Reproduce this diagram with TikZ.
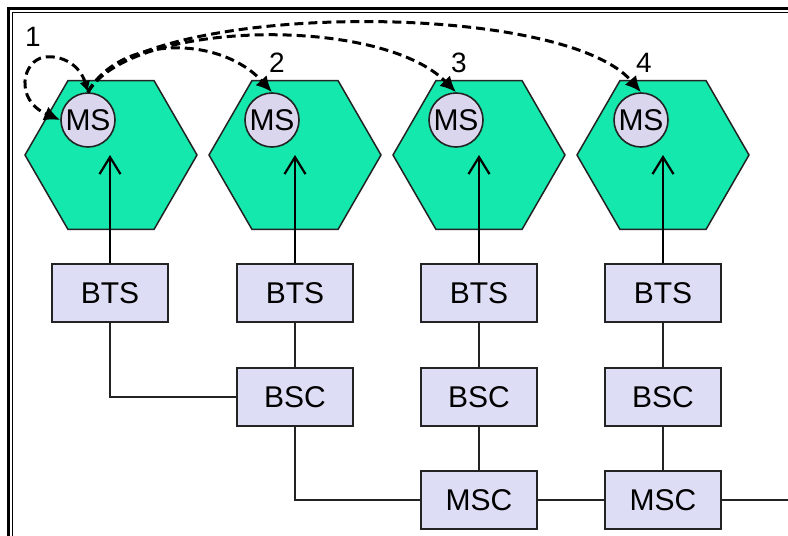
\documentclass[tikz,border=0pt]{standalone}
\usepackage{fontspec}
\setmainfont{Liberation Sans}
\usetikzlibrary{shapes.geometric,arrows.meta}
\definecolor{hexfill}{RGB}{20,232,172}
\definecolor{boxfill}{RGB}{221,221,245}
\definecolor{msfill}{RGB}{218,214,238}
\definecolor{edge}{RGB}{35,35,35}
\tikzset{
  hexa/.style={regular polygon, regular polygon sides=6, minimum size=172pt, inner sep=0pt, outer sep=0pt, draw=edge, line width=1.5pt, fill=hexfill},
  msnode/.style={circle, minimum size=54pt, inner sep=0pt, draw=edge, line width=1.6pt, fill=msfill, font=\fontsize{30}{30}\selectfont},
  unitbox/.style={rectangle, minimum width=116pt, minimum height=58pt, inner sep=0pt, draw=edge, line width=2pt, fill=boxfill, font=\fontsize{30}{32}\selectfont},
  numlabel/.style={inner sep=0pt, font=\fontsize{28}{28}\selectfont},
  link/.style={draw=edge, line width=2pt},
  uparrow/.style={draw=black, line width=2.2pt, -{Straight Barb[length=17pt, width=21pt, line width=2.2pt]}},
  handover/.style={draw=black, line width=3pt, dash pattern=on 9pt off 5pt, -{Latex[length=16pt, width=15pt]}},
}
\begin{document}
\begin{tikzpicture}[x=1pt, y=-1pt]
\useasboundingbox (0,0) rectangle (788,536);
\fill[white] (0,0) rectangle (788,536);
% frame
\draw[line width=2.8pt] (8.7,540) -- (8.7,8.7) -- (792,8.7);
\draw[line width=1.3pt] (12.4,540) -- (12.4,12.4) -- (792,12.4);
% hexagons
\node[hexa] (H1) at (111,155) {};
\node[hexa] (H2) at (295,155) {};
\node[hexa] (H3) at (479,155) {};
\node[hexa] (H4) at (663,155) {};
% MS
\node[msnode] (M1) at (88,120) {MS};
\node[msnode] (M2) at (272,120) {MS};
\node[msnode] (M3) at (456,120) {MS};
\node[msnode] (M4) at (641,120) {MS};
% BTS
\node[unitbox] (T1) at (110,293) {BTS};
\node[unitbox] (T2) at (295,293) {BTS};
\node[unitbox] (T3) at (479,293) {BTS};
\node[unitbox] (T4) at (663,293) {BTS};
% BSC
\node[unitbox] (C2) at (295,397) {BSC};
\node[unitbox] (C3) at (479,397) {BSC};
\node[unitbox] (C4) at (663,397) {BSC};
% MSC
\node[unitbox] (S3) at (479,500) {MSC};
\node[unitbox] (S4) at (663,500) {MSC};
\coordinate (Sout) at (790,500);
% links
\draw[link] (T1.south) |- (C2.west);
\draw[link] (T2.south) -- (C2.north);
\draw[link] (C2.south) |- (S3.west);
\draw[link] (T3.south) -- (C3.north);
\draw[link] (C3.south) -- (S3.north);
\draw[link] (T4.south) -- (C4.north);
\draw[link] (C4.south) -- (S4.north);
\draw[link] (S3.east) -- (S4.west);
\draw[link] (S4.east) -- (Sout);
% up arrows
\draw[uparrow] (T1.north) -- (T1.north |- H1.center);
\draw[uparrow] (T2.north) -- (T2.north |- H2.center);
\draw[uparrow] (T3.north) -- (T3.north |- H3.center);
\draw[uparrow] (T4.north) -- (T4.north |- H4.center);
% handover curves
\coordinate (loopmid) at (45,57);
\draw[handover, {Latex[length=11pt, width=11pt]}-{Latex[length=16pt, width=15pt]}] (M1.north) .. controls (80,65) and (62,55) .. (loopmid) .. controls (22,60) and (14,100) .. (M1.west);
\draw[handover] (M1.north) .. controls (120,35) and (220,35) .. (M2.north);
\draw[handover] (M1.north) .. controls (130,20) and (380,15) .. (M3.north);
\draw[handover] (M1.north) .. controls (130,2) and (560,-2) .. (M4.north);
% labels
\node[numlabel] (N1) at (33,37) {1};
\node[numlabel] (N2) at (277,63) {2};
\node[numlabel] (N3) at (459,63) {3};
\node[numlabel] (N4) at (644,63) {4};
\end{tikzpicture}
\end{document}
